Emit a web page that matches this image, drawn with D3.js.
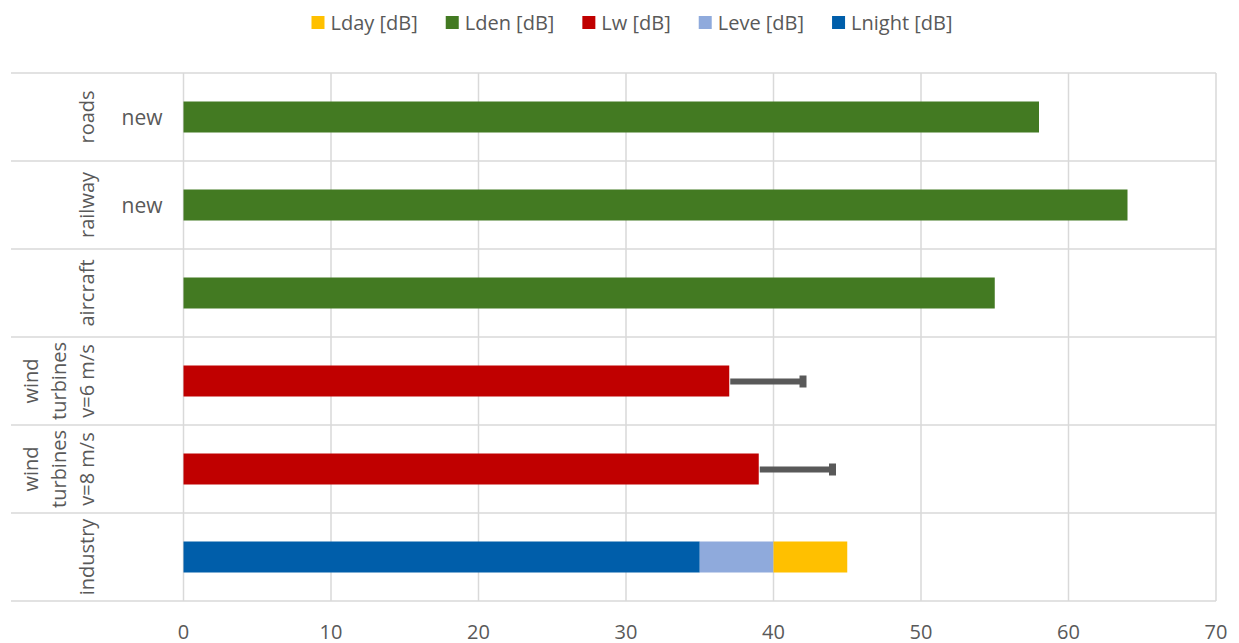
<!DOCTYPE html>
<html><head><meta charset="utf-8">
<script src="https://cdn.jsdelivr.net/npm/d3@7"></script>
<style>body{margin:0;background:#fff}svg{display:block}</style>
</head><body><svg id="c" width="1239" height="643"></svg>
<script>
const categories = ["roads","railway","aircraft","wind turbines v=6 m/s","wind turbines v=8 m/s","industry"];
const categoryLines = [["roads"],["railway"],["aircraft"],["wind","turbines","v=6 m/s"],["wind","turbines","v=8 m/s"],["industry"]];
const subLabels = ["new","new","","","",""];
const legendNames = ["Lday [dB]","Lden [dB]","Lw [dB]","Leve [dB]","Lnight [dB]"];
const legendColors = ["#FFC000","#437A22","#C00000","#8FAADC","#005EAA"];
const lden = [58,64,55,0,0,0];
const lw = [0,0,0,37,39,0];
const lnight = [0,0,0,0,0,35];
const leve = [0,0,0,0,0,5];
const lday = [0,0,0,0,0,5];
const lwErrPlus = [0,0,0,5,5,0];
const xTicks = [0,10,20,30,40,50,60,70];

const font = "'Open Sans', sans-serif";
const textColor = "#595959";
const svg = d3.select("#c");
const x = d3.scaleLinear().domain([0,70]).range([183.5,1216]);
const y = d3.scaleBand().domain(categories).range([73,601]).paddingInner(0).paddingOuter(0);
const barH = 31;

const rows = categories.map((c,i)=>({cat:c, "Lden [dB]":lden[i], "Lw [dB]":lw[i], "Lnight [dB]":lnight[i], "Leve [dB]":leve[i], "Lday [dB]":lday[i], err:lwErrPlus[i]}));
const keys = ["Lden [dB]","Lw [dB]","Lnight [dB]","Leve [dB]","Lday [dB]"];
const color = d3.scaleOrdinal().domain(legendNames).range(legendColors);
const stack = d3.stack().keys(keys)(rows);

// grid
const g = svg.append("g");
g.selectAll("line.v").data(xTicks).join("line")
  .attr("x1",d=>x(d)).attr("x2",d=>x(d)).attr("y1",73).attr("y2",601)
  .attr("stroke","#d9d9d9").attr("stroke-width",1.5);
const bounds = categories.map(c=>y(c)).concat([y.range()[1]]);
g.selectAll("line.h").data(bounds).join("line")
  .attr("x1",11).attr("x2",x(70)).attr("y1",d=>d).attr("y2",d=>d)
  .attr("stroke","#d9d9d9").attr("stroke-width",1.5);

// bars
svg.append("g").selectAll("g").data(stack).join("g").attr("fill",d=>color(d.key))
  .selectAll("rect").data(d=>d.filter(s=>s[1]-s[0]>0)).join("rect")
  .attr("x",d=>x(d[0])).attr("width",d=>x(d[1])-x(d[0]))
  .attr("y",d=>y(d.data.cat)+y.bandwidth()/2-barH/2).attr("height",barH);

// error bars
const errRows = rows.filter(r=>r.err>0);
const eg = svg.append("g").attr("stroke","#595959");
eg.selectAll("line.e").data(errRows).join("line")
  .attr("x1",d=>x(d["Lw [dB]"])+1).attr("x2",d=>x(d["Lw [dB]"]+d.err))
  .attr("y1",d=>y(d.cat)+y.bandwidth()/2+0.5).attr("y2",d=>y(d.cat)+y.bandwidth()/2+0.5)
  .attr("stroke-width",6);
eg.selectAll("line.c").data(errRows).join("line")
  .attr("x1",d=>x(d["Lw [dB]"]+d.err)).attr("x2",d=>x(d["Lw [dB]"]+d.err))
  .attr("y1",d=>y(d.cat)+y.bandwidth()/2-5.5).attr("y2",d=>y(d.cat)+y.bandwidth()/2+6.5)
  .attr("stroke-width",7);

// x tick labels
svg.append("g").selectAll("text").data(xTicks).join("text")
  .attr("x",d=>x(d)).attr("y",631).attr("dominant-baseline","central").attr("text-anchor","middle")
  .attr("font-family",font).attr("font-size",20).attr("fill",textColor).text(d=>d);

// category labels (rotated)
const cl = svg.append("g").selectAll("text").data(categories).join("text")
  .attr("transform",c=>`translate(0,${y(c)+y.bandwidth()/2}) rotate(-90)`)
  .attr("text-anchor","middle").attr("font-family",font).attr("font-size",20).attr("fill",textColor);
cl.each(function(c,i){
  const lines = categoryLines[i];
  const n = lines.length;
  d3.select(this).selectAll("tspan").data(lines).join("tspan")
    .attr("x",0).attr("y",(d,j)=>86-(n-1-j)*28).attr("dominant-baseline","central").text(d=>d);
});

// sub labels
svg.append("g").selectAll("text").data(categories).join("text")
  .attr("x",142).attr("y",c=>y(c)+y.bandwidth()/2).attr("dominant-baseline","central").attr("text-anchor","middle")
  .attr("font-family",font).attr("font-size",21).attr("fill",textColor).text((c,i)=>subLabels[i]);

// legend
const lg = svg.append("g").selectAll("g").data(legendNames).join("g");
lg.append("rect").attr("x",0).attr("y",-6.5).attr("width",13).attr("height",13).attr("fill",d=>color(d));
lg.append("text").attr("x",19).attr("y",0).attr("dominant-baseline","central")
  .attr("font-family",font).attr("font-size",20).attr("fill",textColor).text(d=>d);
const widths = [];
lg.each(function(){ widths.push(19 + d3.select(this).select("text").node().getComputedTextLength()); });
const gap = 28;
const total = d3.sum(widths) + gap*(widths.length-1);
let cx = 632 - total/2;
const offs = widths.map(w=>{ const o = cx; cx += w + gap; return o; });
lg.attr("transform",(d,i)=>`translate(${offs[i]},22.5)`);
</script></body></html>
